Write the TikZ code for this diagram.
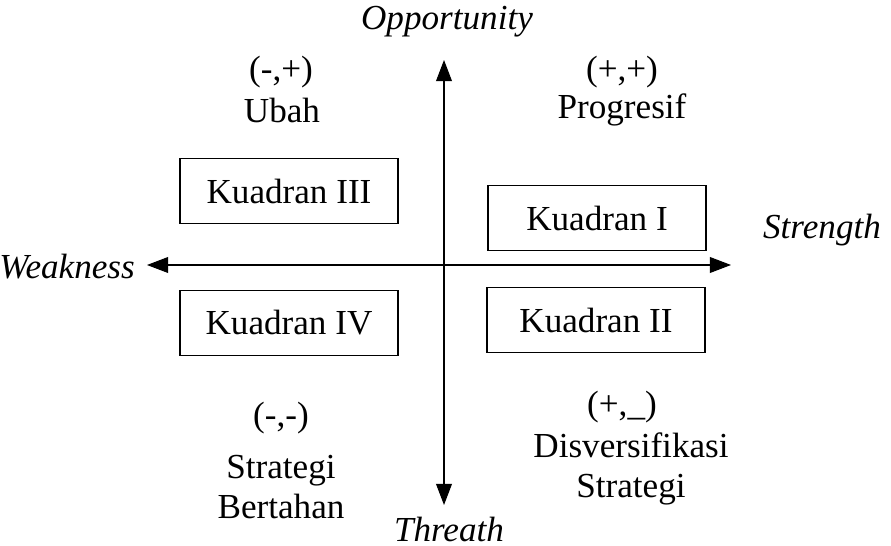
\documentclass[tikz,border=0pt]{standalone}
\usepackage{fontspec}
\setmainfont{Liberation Serif}
\usetikzlibrary{arrows.meta}

\begin{document}
\begin{tikzpicture}[x=0.02cm, y=-0.02cm,
    every node/.style={font=\fontsize{20}{22.5}\selectfont},
    quad/.style={draw, line width=0.6pt, minimum width=218*0.02cm, minimum height=65*0.02cm},
    axis/.style={line width=0.6pt, {Triangle[length=12pt, width=9pt]}-{Triangle[length=12pt, width=9pt]}},
    lbl/.style={align=center}]
    \useasboundingbox (0,0) rectangle (891,546);

    % axes
    \coordinate (o) at (444,265);
    \coordinate (up) at (444,60);
    \coordinate (down) at (444,505);
    \coordinate (left) at (147,265);
    \coordinate (right) at (731,265);
    \draw[axis] (left) -- (right);
    \draw[axis] (up) -- (down);

    \node (opp) at (447,22) {\itshape Opportunity};
    \node (thr) at (449,529) {\itshape Threath};
    \node[anchor=east] (weak) at (141,267) {\itshape Weakness};
    \node (str) at (822,230) {\itshape Strength};

    % quadrants
    \node[quad] (k3) at (289,191) {Kuadran III};
    \node[quad] (k1) at (597,218) {Kuadran I};
    \node[quad] (k4) at (289,323) {Kuadran IV};
    \node[quad] (k2) at (596,320) {Kuadran II};

    % labels
    \node (s3) at (281,72) {(-,+)};
    \node (n3) at (282,110) {Ubah};
    \node (s1) at (622,72) {(+,+)};
    \node (n1) at (622,110) {Progresif};
    \node (s4) at (281,418) {(-,-)};
    \node[lbl] (n4) at (281,487) {Strategi\\Bertahan};
    \node (s2) at (622,407) {(+,\_)};
    \node[lbl] (n2) at (631,469) {Disversifikasi\\Strategi};
\end{tikzpicture}
\end{document}
